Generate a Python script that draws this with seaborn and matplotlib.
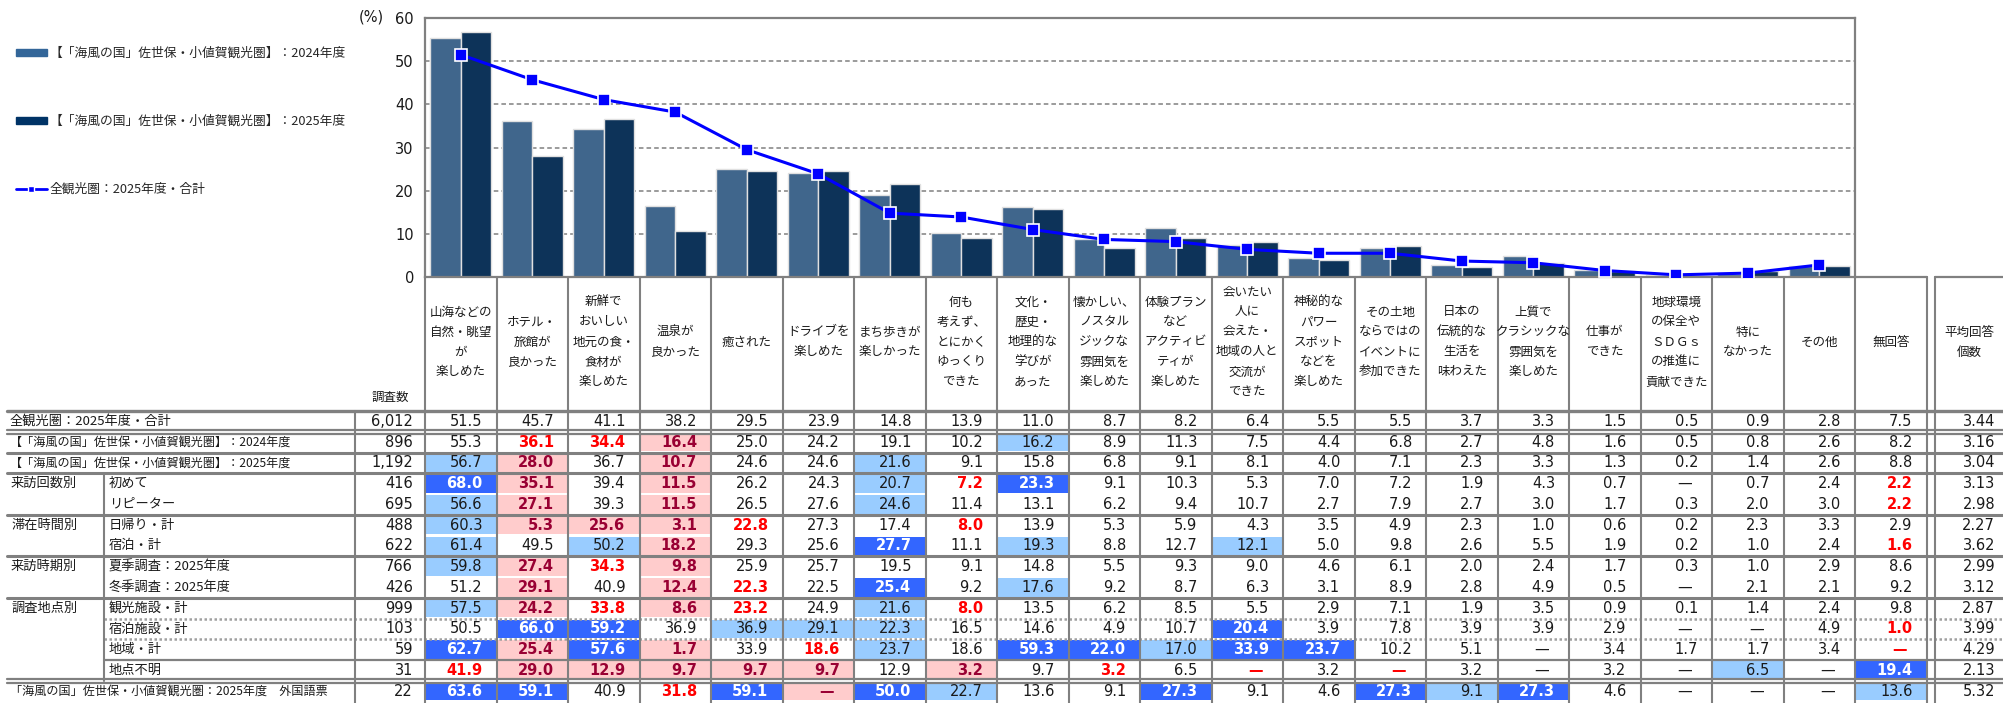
import numpy as np
import pandas as pd
import matplotlib
matplotlib.use("Agg")
import matplotlib.pyplot as plt
from matplotlib.lines import Line2D
from matplotlib.patches import Patch, Rectangle
from matplotlib.font_manager import FontProperties
import seaborn as sns

# ---- data ---------------------------------------------------------------
headers = [
    "山海などの\n自然・眺望\nが\n楽しめた", "ホテル・\n旅館が\n良かった",
    "新鮮で\nおいしい\n地元の食・\n食材が\n楽しめた", "温泉が\n良かった", "癒された",
    "ドライブを\n楽しめた", "まち歩きが\n楽しかった", "何も\n考えず、\nとにかく\nゆっくり\nできた",
    "文化・\n歴史・\n地理的な\n学びが\nあった", "懐かしい、\nノスタル\nジックな\n雰囲気を\n楽しめた",
    "体験プラン\nなど\nアクティビ\nティが\n楽しめた",
    "会いたい\n人に\n会えた・\n地域の人と\n交流が\nできた",
    "神秘的な\nパワー\nスポット\nなどを\n楽しめた", "その土地\nならではの\nイベントに\n参加できた",
    "日本の\n伝統的な\n生活を\n味わえた", "上質で\nクラシックな\n雰囲気を\n楽しめた",
    "仕事が\nできた", "地球環境\nの保全や\nＳＤＧｓ\nの推進に\n貢献できた",
    "特に\nなかった", "その他", "無回答",
]
avg_header = "平均回答\n個数"

legend_labels = ["【「海風の国」佐世保・小値賀観光圏】：2024年度",
                 "【「海風の国」佐世保・小値賀観光圏】：2025年度",
                 "全観光圏：2025年度・合計"]

all_2025 = [51.5, 45.7, 41.1, 38.2, 29.5, 23.9, 14.8, 13.9, 11.0, 8.7, 8.2, 6.4, 5.5, 5.5, 3.7, 3.3, 1.5, 0.5, 0.9, 2.8, 7.5]
area_2024 = [55.3, 36.1, 34.4, 16.4, 25.0, 24.2, 19.1, 10.2, 16.2, 8.9, 11.3, 7.5, 4.4, 6.8, 2.7, 4.8, 1.6, 0.5, 0.8, 2.6, 8.2]
area_2025 = [56.7, 28.0, 36.7, 10.7, 24.6, 24.6, 21.6, 9.1, 15.8, 6.8, 9.1, 8.1, 4.0, 7.1, 2.3, 3.3, 1.3, 0.2, 1.4, 2.6, 8.8]

group_labels = ["", "", "", "来訪回数別", "", "滞在時間別", "", "来訪時期別", "", "調査地点別", "", "", "", ""]
row_labels = ["全観光圏：2025年度・合計",
              "【「海風の国」佐世保・小値賀観光圏】：2024年度",
              "【「海風の国」佐世保・小値賀観光圏】：2025年度",
              "初めて", "リピーター", "日帰り・計", "宿泊・計",
              "夏季調査：2025年度", "冬季調査：2025年度",
              "観光施設・計", "宿泊施設・計", "地域・計", "地点不明",
              "「海風の国」佐世保・小値賀観光圏：2025年度　外国語票"]
sample_sizes = ["6,012", "896", "1,192", "416", "695", "488", "622", "766", "426", "999", "103", "59", "31", "22"]
avg_answers = [3.44, 3.16, 3.04, 3.13, 2.98, 2.27, 3.62, 2.99, 3.12, 2.87, 3.99, 4.29, 2.13, 5.32]

N = None
row_values = [
    all_2025,
    area_2024,
    area_2025,
    [68.0, 35.1, 39.4, 11.5, 26.2, 24.3, 20.7, 7.2, 23.3, 9.1, 10.3, 5.3, 7.0, 7.2, 1.9, 4.3, 0.7, N, 0.7, 2.4, 2.2],
    [56.6, 27.1, 39.3, 11.5, 26.5, 27.6, 24.6, 11.4, 13.1, 6.2, 9.4, 10.7, 2.7, 7.9, 2.7, 3.0, 1.7, 0.3, 2.0, 3.0, 2.2],
    [60.3, 5.3, 25.6, 3.1, 22.8, 27.3, 17.4, 8.0, 13.9, 5.3, 5.9, 4.3, 3.5, 4.9, 2.3, 1.0, 0.6, 0.2, 2.3, 3.3, 2.9],
    [61.4, 49.5, 50.2, 18.2, 29.3, 25.6, 27.7, 11.1, 19.3, 8.8, 12.7, 12.1, 5.0, 9.8, 2.6, 5.5, 1.9, 0.2, 1.0, 2.4, 1.6],
    [59.8, 27.4, 34.3, 9.8, 25.9, 25.7, 19.5, 9.1, 14.8, 5.5, 9.3, 9.0, 4.6, 6.1, 2.0, 2.4, 1.7, 0.3, 1.0, 2.9, 8.6],
    [51.2, 29.1, 40.9, 12.4, 22.3, 22.5, 25.4, 9.2, 17.6, 9.2, 8.7, 6.3, 3.1, 8.9, 2.8, 4.9, 0.5, N, 2.1, 2.1, 9.2],
    [57.5, 24.2, 33.8, 8.6, 23.2, 24.9, 21.6, 8.0, 13.5, 6.2, 8.5, 5.5, 2.9, 7.1, 1.9, 3.5, 0.9, 0.1, 1.4, 2.4, 9.8],
    [50.5, 66.0, 59.2, 36.9, 36.9, 29.1, 22.3, 16.5, 14.6, 4.9, 10.7, 20.4, 3.9, 7.8, 3.9, 3.9, 2.9, N, N, 4.9, 1.0],
    [62.7, 25.4, 57.6, 1.7, 33.9, 18.6, 23.7, 18.6, 59.3, 22.0, 17.0, 33.9, 23.7, 10.2, 5.1, N, 3.4, 1.7, 1.7, 3.4, N],
    [41.9, 29.0, 12.9, 9.7, 9.7, 9.7, 12.9, 3.2, 9.7, 3.2, 6.5, N, 3.2, N, 3.2, N, 3.2, N, 6.5, N, 19.4],
    [63.6, 59.1, 40.9, 31.8, 59.1, N, 50.0, 22.7, 13.6, 9.1, 27.3, 9.1, 4.6, 27.3, 9.1, 27.3, 4.6, N, N, N, 13.6],
]

# cell highlight codes: D=dark blue, L=light blue, P=pink, R=red text, N=plain
row_styles = [
    "NNNNNNN NNNNNNN NNNNNNN",
    "NRRPNNN NLNNNNN NNNNNNN",
    "LPNPNNL NNNNNNN NNNNNNN",
    "DPNPNNL RDNNNNN NNNNNNR",
    "LPNPNNL NNNNNNN NNNNNNR",
    "LPPPRNN RNNNNNN NNNNNNN",
    "LNLPNND NLNNLNN NNNNNNR",
    "LPRPNNN NNNNNNN NNNNNNN",
    "NPNPRND NLNNNNN NNNNNNN",
    "LPRPRNL RNNNNNN NNNNNNN",
    "NDDNLLL NNNNDNN NNNNNNR",
    "DPDPNRL NDDLDDN NNNNNNR",
    "RPPPPPN PNRNRNR NNNNLND",
    "DDNRDPD LNNDNND LDNNNNL",
]
row_styles = [s.replace(" ", "") for s in row_styles]

# separator below each row: thick / double / none / dotted / thin
row_rules = ["double", "thick", "thick", "none", "thick", "none", "thick", "none", "thick",
             "dotted", "dotted", "thin", "double", "none"]

# ---- style ----------------------------------------------------------------
sns.set_style("white")
plt.rcParams['font.family'] = ['DejaVu Sans', 'Noto Sans CJK JP']
JP = ['Noto Sans CJK JP', 'DejaVu Sans']
GRAY = '#808080'
fills = {'D': '#3366FF', 'L': '#99CCFF', 'P': '#FFCCCC'}
text_col = {'D': 'white', 'L': '#1a1a1a', 'P': '#990033', 'R': '#FF0000', 'N': '#1a1a1a'}
text_bold = {'D': True, 'L': False, 'P': True, 'R': True, 'N': False}

W, H = 2003, 703
fig = plt.figure(figsize=(W / 100, H / 100), dpi=100)

# geometry (pixels)
x0, col_w = 425, 71.5
n_bar = 20
plot_top, zero_y = 18, 277
head_bot, row_h = 411, 20.75
avg_l, avg_r = 1935, 2003

tab = fig.add_axes([0, 0, 1, 1])
tab.set_xlim(0, W)
tab.set_ylim(H, 0)
tab.axis('off')

ax = fig.add_axes([x0 / W, 1 - zero_y / H, n_bar * col_w / W, (zero_y - plot_top) / H])

# ---- chart ----------------------------------------------------------------
cats = [h.replace("\n", "") for h in headers[:n_bar]]
bars = pd.DataFrame({
    'cat': cats * 2,
    'year': ['2024'] * n_bar + ['2025'] * n_bar,
    'val': area_2024[:n_bar] + area_2025[:n_bar],
})
sns.barplot(data=bars, x='cat', y='val', hue='year', hue_order=['2024', '2025'],
            palette=['#336699', '#003366'], width=0.85, errorbar=None,
            edgecolor='#E0E0E0', linewidth=1, legend=False, ax=ax, zorder=2)
sns.lineplot(x=np.arange(n_bar), y=all_2025[:n_bar], color='#0000FF', lw=2.2,
             marker='s', markersize=8, markerfacecolor='#0000FF',
             markeredgecolor='white', markeredgewidth=1.2, ax=ax, zorder=4)

ax.set_xlim(-0.5, n_bar - 0.5)
ax.set_ylim(0, 60)
ax.set_yticks(range(0, 61, 10))
ax.set_xticks([])
ax.set_xlabel('')
ax.set_ylabel('')
ax.tick_params(axis='y', length=0, pad=8, labelsize=10.5, labelcolor='#1a1a1a')
for y in range(10, 60, 10):
    ax.axhline(y, color=GRAY, lw=1.1, ls=(0, (3, 2)), zorder=1)
for sp in ax.spines.values():
    sp.set_color(GRAY)
    sp.set_linewidth(1.6)
ax.patch.set_alpha(0)
fig.text(384 / W, 1 - 17 / H, "(%)", ha='right', va='center', fontsize=10.5, color='#1a1a1a')

handles = [Patch(fc='#336699', ec='#336699'), Patch(fc='#003366', ec='#003366'),
           Line2D([], [], color='#0000FF', lw=2, marker='s', ms=4,
                  mfc='#0000FF', mec='white')]
fig.legend(handles, legend_labels, loc='upper left', bbox_to_anchor=(16 / W, 1 - 47 / H),
           frameon=False, prop=FontProperties(family=JP, size=9.2),
           handlelength=2.4, handleheight=0.55, labelspacing=4.3, handletextpad=0.25,
           borderaxespad=0, borderpad=0)

# ---- table ----------------------------------------------------------------
n_cols = len(headers)
col_left = [x0 + i * col_w for i in range(n_cols)]
tab_right = x0 + n_cols * col_w
n_rows = len(row_values)
row_top = [head_bot + i * row_h for i in range(n_rows)]

# header
for i, h in enumerate(headers):
    tab.text(col_left[i] + col_w / 2, 342, h, ha='center', va='center',
             family=JP, fontsize=9, linespacing=1.7, color='#1a1a1a')
tab.text((avg_l + avg_r) / 2, 342, avg_header, ha='center', va='center',
         family=JP, fontsize=9, linespacing=1.7, color='#1a1a1a')
tab.text(390, 397, "調査数", ha='center', va='center', family=JP, fontsize=9, color='#1a1a1a')

# cells
for r in range(n_rows):
    yt, yc = row_top[r], row_top[r] + row_h / 2
    for c, v in enumerate(row_values[r]):
        code = row_styles[r][c]
        if code in fills:
            tab.add_patch(Rectangle((col_left[c] + 1, yt + 1.2), col_w - 2, row_h - 2.4,
                                    fc=fills[code], ec='none', zorder=1))
        txt = "—" if v is None else f"{v:.1f}"
        xr = col_left[c] + col_w - (20 if v is None else 14)
        tab.text(xr, yc, txt, ha='right', va='center', fontsize=10.5,
                 color=text_col[code], fontweight='bold' if text_bold[code] else 'normal', zorder=3)
    tab.text(413, yc, sample_sizes[r], ha='right', va='center', fontsize=10.5, color='#1a1a1a', zorder=3)
    tab.text(avg_r - 8, yc, f"{avg_answers[r]:.2f}", ha='right', va='center', fontsize=10.5,
             color='#1a1a1a', zorder=3)
    if group_labels[r]:
        tab.text(11, yc, group_labels[r], ha='left', va='center', family=JP, fontsize=9.5,
                 color='#1a1a1a', zorder=3)
    lx = 109 if (3 <= r <= 12) else 10
    fs = 8.7 if len(row_labels[r]) > 20 else 9.5
    tab.text(lx, yc, row_labels[r], ha='left', va='center', family=JP, fontsize=fs,
             color='#1a1a1a', zorder=3)

# horizontal rules
tab.plot([7, W], [head_bot, head_bot], color=GRAY, lw=2.4, zorder=2)
for r, rule in enumerate(row_rules):
    yb = row_top[r] + row_h
    xs = [104, W] if 9 <= r <= 11 else [7, W]
    if rule == "thick":
        tab.plot(xs, [yb, yb], color=GRAY, lw=2.2, zorder=2)
    elif rule == "thin":
        tab.plot(xs, [yb, yb], color=GRAY, lw=1.6, zorder=2)
    elif rule == "double":
        tab.plot(xs, [yb - 2, yb - 2], color=GRAY, lw=1.6, zorder=2)
        tab.plot(xs, [yb + 2, yb + 2], color=GRAY, lw=1.6, zorder=2)
    elif rule == "dotted":
        tab.plot(xs, [yb, yb], color='#A0A0A0', lw=1.8, ls=(0, (1, 1)), zorder=2)

# vertical rules
for i in range(n_cols + 1):
    xv = x0 + i * col_w
    tab.plot([xv, xv], [zero_y, H], color=GRAY, lw=1.5, zorder=2)
tab.plot([avg_l, avg_l], [zero_y, H], color=GRAY, lw=1.5, zorder=2)
tab.plot([355, 355], [head_bot, H], color=GRAY, lw=1.5, zorder=2)
tab.plot([104, 104], [row_top[3], row_top[12] + row_h], color=GRAY, lw=1.5, zorder=2)
tab.plot([x0 + n_bar * col_w, tab_right], [zero_y, zero_y], color=GRAY, lw=1.6, zorder=2)
tab.plot([avg_l, avg_r], [zero_y, zero_y], color=GRAY, lw=1.6, zorder=2)

fig.savefig("out.png", dpi=100)
